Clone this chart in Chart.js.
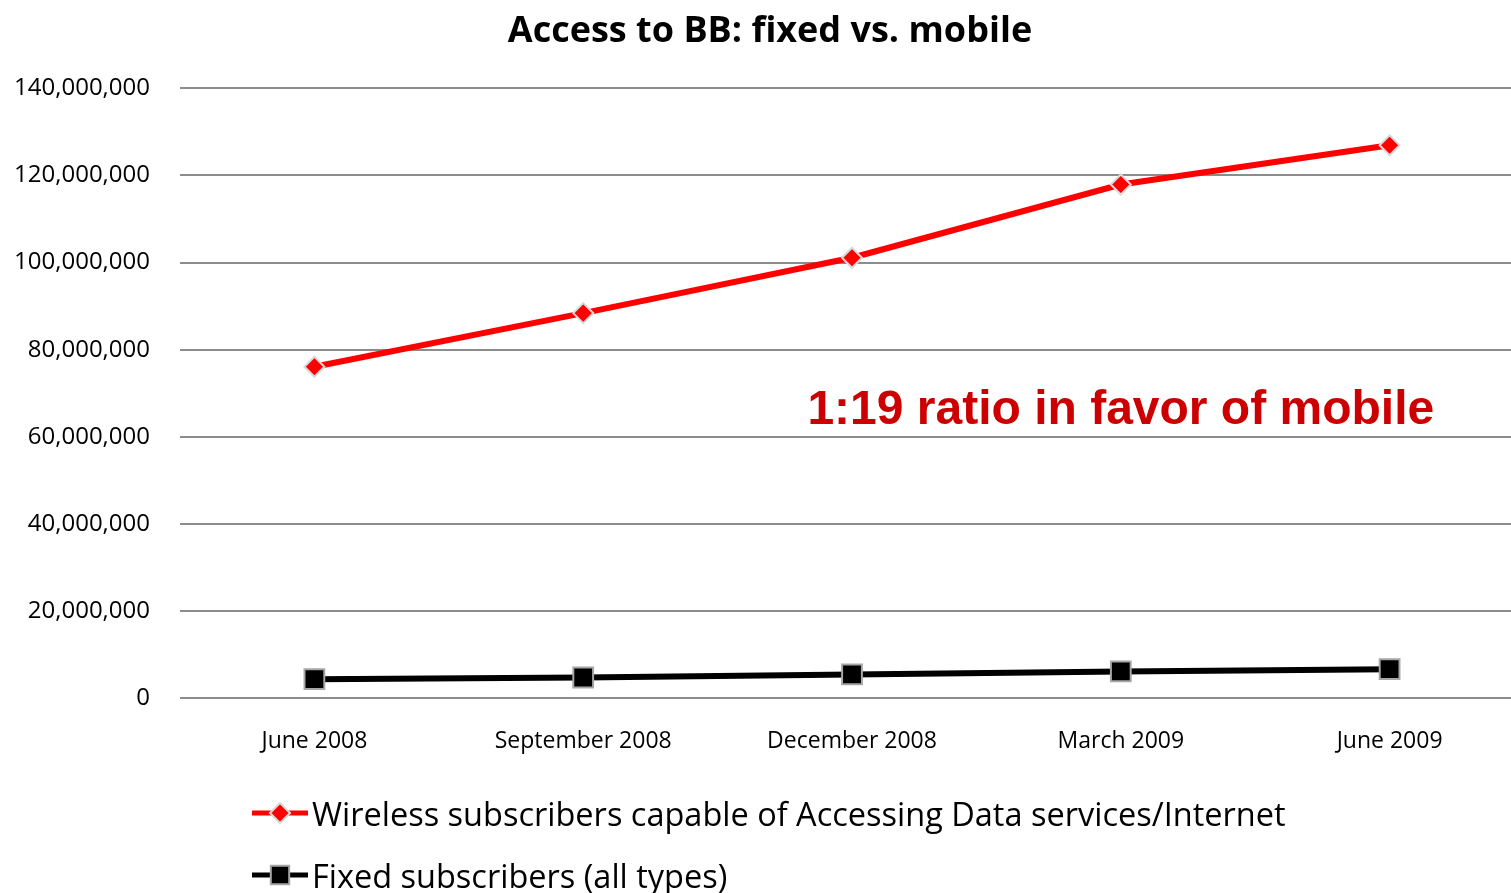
<!DOCTYPE html>
<html>
<head>
<meta charset="utf-8">
<title>Access to BB: fixed vs. mobile</title>
<script src="https://cdn.jsdelivr.net/npm/chart.js@4.4.1/dist/chart.umd.min.js"></script>
<style>
  html, body { margin: 0; padding: 0; background: #fff; overflow: hidden; }
  #wrap { position: relative; width: 1540px; height: 893px; }
  #bbChart { display: block; }
  #legend { position: absolute; left: 252px; top: 790px; font-family: "Open Sans", sans-serif; font-size: 32.5px; color: #000; }
  #legend .item { display: flex; align-items: center; height: 46px; margin-bottom: 16px; white-space: nowrap; }
  #legend canvas { margin-right: 2px; }
</style>
</head>
<body>
<div id="wrap">
  <canvas id="bbChart" width="1540" height="893"></canvas>
  <div id="legend"></div>
</div>
<script>
const periods = ['June 2008', 'September 2008', 'December 2008', 'March 2009', 'June 2009'];
const wirelessSubs = [76100000, 88400000, 101100000, 117900000, 126900000];
const fixedSubs = [4400000, 4800000, 5500000, 6200000, 6700000];
const yTicks = [0, 20000000, 40000000, 60000000, 80000000, 100000000, 120000000, 140000000];
const ratioNote = '1:19 ratio in favor of mobile';

// red callout text placed in data space
const notePlugin = {
    id: 'ratioNote',
    afterDatasetsDraw(chart) {
        const ctx = chart.ctx;
        const x = chart.scales.x.getPixelForValue(3);
        const y = chart.scales.y.getPixelForValue(63000000);
        ctx.save();
        ctx.font = 'bold 48px "Liberation Sans", Arial, sans-serif';
        ctx.fillStyle = '#cc0000';
        ctx.textAlign = 'center';
        ctx.textBaseline = 'alphabetic';
        ctx.fillText(ratioNote, x, y);
        ctx.restore();
    }
};

const ctx = document.getElementById('bbChart').getContext('2d');
const chart = new Chart(ctx, {
    type: 'line',
    data: {
        labels: periods,
        datasets: [
            {
                label: 'Wireless subscribers capable of Accessing Data services/Internet',
                data: wirelessSubs,
                borderColor: '#ff0000',
                borderWidth: 6,
                pointStyle: 'rectRot',
                pointRadius: 10,
                pointBackgroundColor: '#ff0000',
                pointBorderColor: '#d9d9d9',
                pointBorderWidth: 2,
                tension: 0
            },
            {
                label: 'Fixed subscribers (all types)',
                data: fixedSubs,
                borderColor: '#000000',
                borderWidth: 6,
                pointStyle: 'rect',
                pointRadius: 14,
                pointBackgroundColor: '#000000',
                pointBorderColor: '#a6a6a6',
                pointBorderWidth: 2,
                tension: 0
            }
        ]
    },
    options: {
        responsive: false,
        animation: false,
        layout: { padding: { left: 0, right: 0, top: 0, bottom: 109 } },
        plugins: {
            legend: { display: false },
            tooltip: { enabled: false },
            title: {
                display: true,
                text: 'Access to BB: fixed vs. mobile',
                color: '#000',
                font: { family: '"Open Sans", sans-serif', size: 36, weight: 'bold' },
                padding: { top: 10, bottom: 35 }
            }
        },
        scales: {
            x: {
                offset: true,
                grid: { display: false, drawTicks: false },
                border: { display: false },
                ticks: {
                    color: '#000',
                    padding: 29,
                    maxRotation: 0,
                    font: { family: '"Open Sans", sans-serif', size: 23 }
                }
            },
            y: {
                min: 0,
                max: 140000000,
                afterBuildTicks(scale) {
                    scale.ticks = yTicks.map(v => ({ value: v }));
                },
                afterFit(scale) {
                    scale.width = 180;
                },
                grid: { color: '#8c8c8c', lineWidth: 2, drawTicks: false },
                border: { display: false },
                ticks: {
                    color: '#000',
                    padding: 30,
                    font: { family: '"Open Sans", sans-serif', size: 24 },
                    callback: v => v.toLocaleString('en-US')
                }
            }
        }
    },
    plugins: [notePlugin]
});

// legend with line + marker swatches
const legendEl = document.getElementById('legend');
chart.data.datasets.forEach(ds => {
    const item = document.createElement('div');
    item.className = 'item';
    const sw = document.createElement('canvas');
    sw.width = 58;
    sw.height = 30;
    const c = sw.getContext('2d');
    c.strokeStyle = ds.borderColor;
    c.lineWidth = 5;
    c.beginPath();
    c.moveTo(0, 15);
    c.lineTo(56, 15);
    c.stroke();
    c.fillStyle = ds.pointBackgroundColor;
    c.strokeStyle = ds.pointBorderColor;
    c.lineWidth = ds.pointBorderWidth;
    const r = ds.pointStyle === 'rect' ? 13 : 10;
    Chart.helpers.drawPoint(c, { pointStyle: ds.pointStyle, radius: r, borderWidth: ds.pointBorderWidth }, 28, 15);
    const label = document.createElement('span');
    label.textContent = ds.label;
    item.appendChild(sw);
    item.appendChild(label);
    legendEl.appendChild(item);
});
</script>
</body>
</html>
